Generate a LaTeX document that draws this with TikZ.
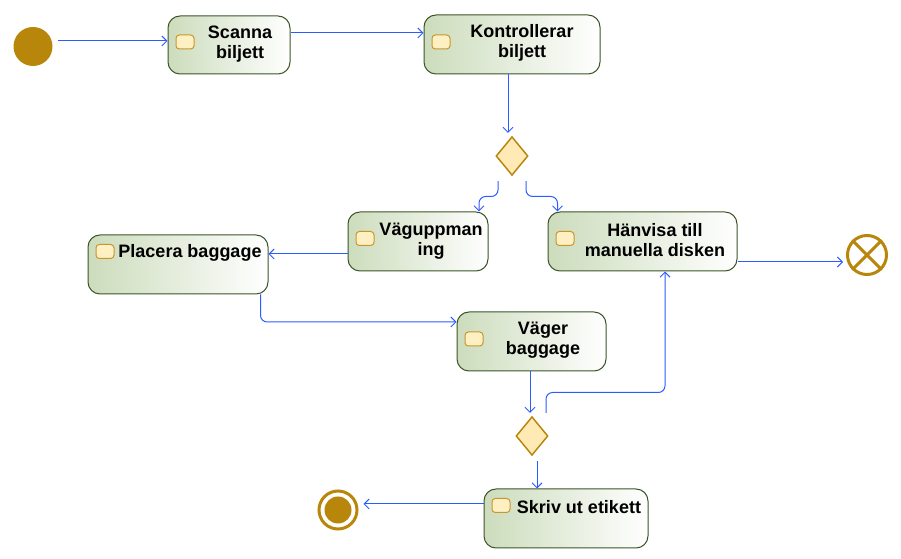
\documentclass[tikz,border=0pt]{standalone}
\usepackage{fontspec}
\setmainfont{Liberation Sans}
\usetikzlibrary{positioning,arrows.meta,calc,shapes.geometric}
\definecolor{flowc}{HTML}{2B5CFF}
\definecolor{gold}{HTML}{B8860B}
\definecolor{actedge}{HTML}{3C5528}
\definecolor{actfill}{HTML}{CCDCBC}
\definecolor{dfill}{HTML}{FFE9B5}
\definecolor{icfill}{HTML}{FFF0C4}
\definecolor{icedge}{HTML}{C8962A}
\tikzset{
  act/.style={draw=actedge, line width=0.75pt, rounded corners=9pt, left color=actfill, right color=white, inner sep=0pt},
  icon/.style={draw=icedge, fill=icfill, line width=0.75pt, rounded corners=2.5pt, minimum width=13.5pt, minimum height=10.5pt, inner sep=0pt},
  lbl/.style={font=\bfseries\fontsize{13.5}{15}\selectfont, align=center, inner sep=0pt},
  flow/.style={draw=flowc, line width=0.75pt, -{Straight Barb[length=3.75pt,width=7.5pt]}},
  decide/.style={diamond, draw=gold, fill=dfill, line width=1.1pt, minimum width=24pt, minimum height=29pt, inner sep=0pt},
}
\newcommand{\activity}[6]{%
  \node[act, minimum width={(#4-#2)*0.75pt}, minimum height={(#5-#3)*0.75pt}] (#1) at ({(#2+#4)/2},{(#3+#5)/2}) {};
  \node[icon] (#1-ic) at ({#2+17},#6) {};
}

\begin{document}
\begin{tikzpicture}[x=0.75pt,y=-0.75pt]
  \useasboundingbox (0,0) rectangle (901,559);
  % start / end nodes
  \node[circle, fill=gold, minimum size=29.25pt, inner sep=0pt] (start) at (33,46.5) {};
  \node[circle, draw=gold, line width=2.25pt, minimum size=28.5pt, inner sep=0pt] (fin) at (338,510) {};
  \node[circle, fill=gold, minimum size=20.25pt, inner sep=0pt] (fin-in) at (fin) {};
  \node[circle, draw=gold, line width=2.25pt, minimum size=29.25pt, inner sep=0pt] (stop) at (867,255) {};
  \draw[gold, line width=2.25pt] (stop.45) -- (stop.225) (stop.135) -- (stop.315);
  % activities
  \activity{sc}{168}{16}{290}{74}{42}
  \node[lbl] (sc-t) at (240,44) {Scanna\\biljett};
  \activity{kb}{424}{15}{600}{74}{42}
  \node[lbl] (kb-t) at (522,43) {Kontrollerar\\biljett};
  \activity{vu}{348}{212}{488}{271}{238.5}
  \node[lbl] (vu-t) at (431,241) {Väguppman\\ing};
  \activity{hv}{548}{212}{737}{271}{238.5}
  \node[lbl] (hv-t) at (655,240) {Hänvisa till\\manuella disken};
  \activity{pb}{88}{235}{268}{294}{251.5}
  \node[lbl] (pb-t) at (190,253) {Placera baggage};
  \activity{vg}{457}{312}{606}{371}{339}
  \node[lbl] (vg-t) at (543,340) {Väger\\baggage};
  \activity{sk}{484}{489}{648}{548}{505.5}
  \node[lbl] (sk-t) at (579,507) {Skriv ut etikett};
  % decisions
  \node[decide] (d1) at (512,156) {};
  \node[decide] (d2) at (532,436) {};
  % flows
  \draw[flow] ($(start.east)+(5,-5.5)$) coordinate (s0) -- (s0 -| sc.west);
  \draw[flow] ($(sc.east)+(0,-12)$) coordinate (s1) -- (s1 -| kb.west);
  \draw[flow] ($(kb.south)+(-4,0)$) coordinate (s5) -- ($(s5 |- d1.north)+(0,-3)$);
  \draw[flow, rounded corners=5pt] ($(d1.south)+(-14,5)$) |- ($(vu.north)+(61,-15)$) -- ($(vu.north)+(61,0)$);
  \draw[flow, rounded corners=5pt] ($(d1.south)+(14,5)$) |- ($(hv.north)+(-85,-15)$) -- ($(hv.north)+(-85,0)$);
  \draw[flow] ($(vu.west)+(0,12.5)$) coordinate (s2) -- (s2 -| pb.east);
  \draw[flow, rounded corners=5pt] ($(pb.south east)+(-8,0)$) |- ($(vg.west)+(0,-19.5)$);
  \draw[flow] ($(vg.south)+(-1.5,0)$) coordinate (s6) -- ($(s6 |- d2.north)+(0,-3)$);
  \draw[flow, rounded corners=5pt] ($(d2.north)+(14,-3)$) |- ($(hv.south)+(22.5,121)$) -- ($(hv.south)+(22.5,0)$);
  \draw[flow] ($(d2.south)+(5,5)$) coordinate (s7) -- (s7 |- sk.north);
  \draw[flow] ($(hv.east)+(0,20.5)$) coordinate (s3) -- ($(s3 -| stop.west)+(-3,0)$);
  \draw[flow] ($(sk.west)+(0,-14.5)$) coordinate (s4) -- ($(s4 -| fin.east)+(5,0)$);
\end{tikzpicture}
\end{document}
